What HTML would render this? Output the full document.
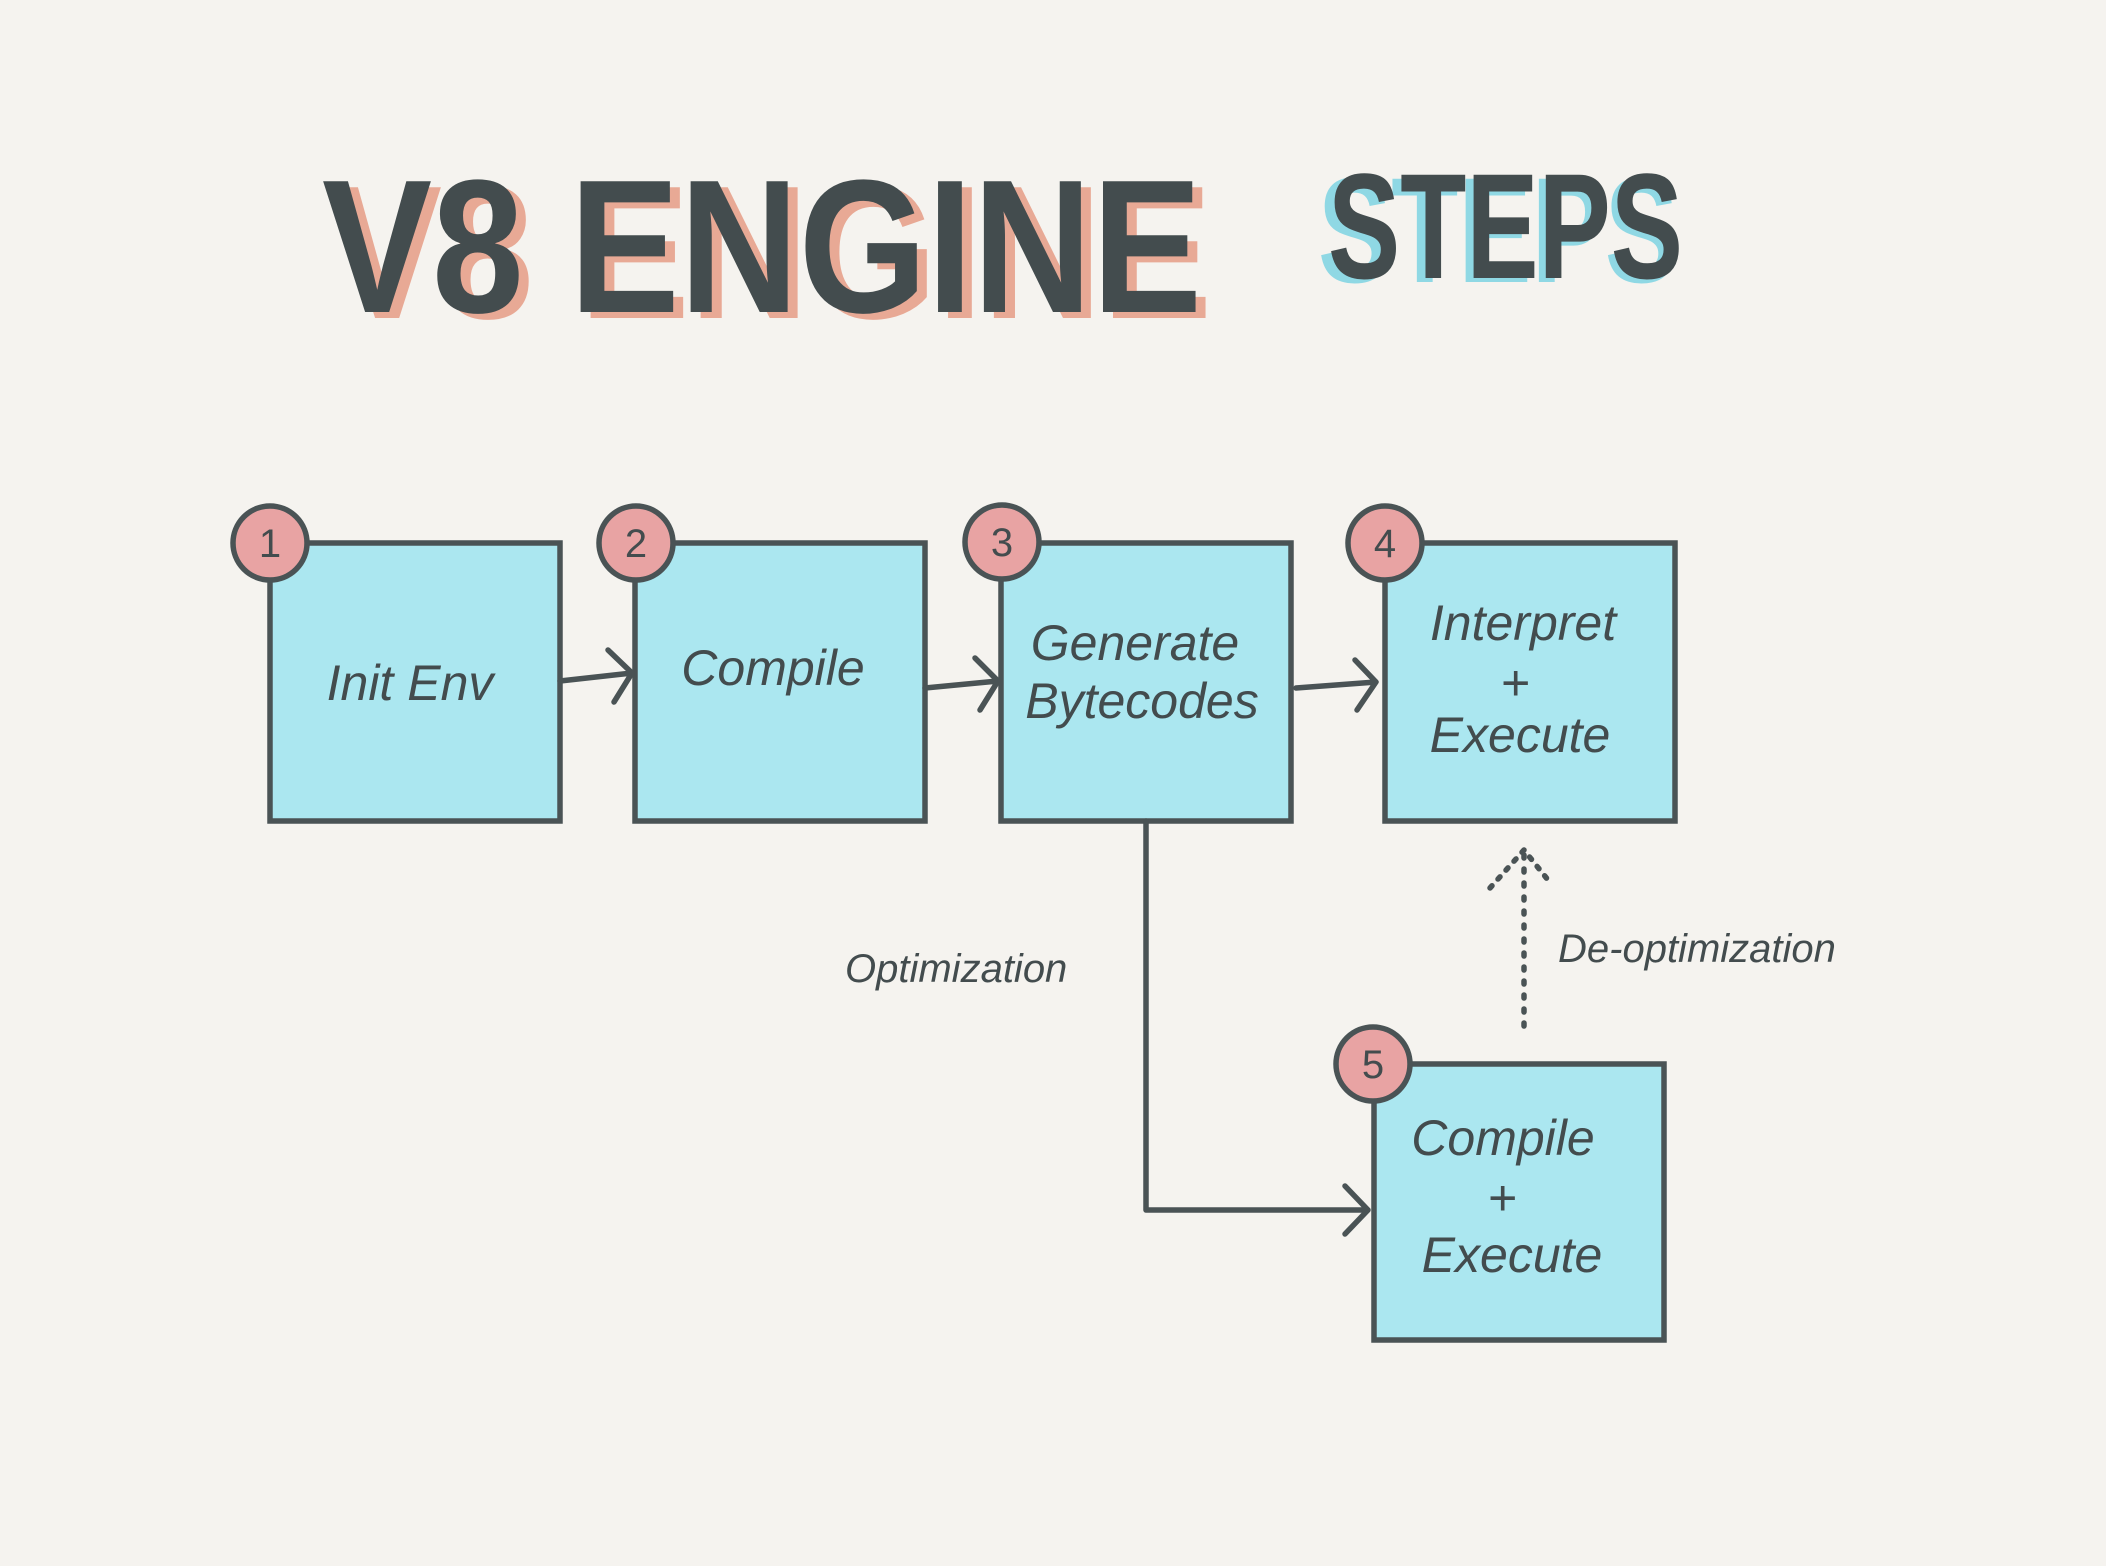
<!DOCTYPE html>
<html><head><meta charset="utf-8"><style>
html,body{margin:0;padding:0;background:#f5f3ef;}
svg{display:block}
text{font-family:"Liberation Sans",sans-serif;fill:#434c4e}
</style></head><body>
<svg width="2106" height="1566" viewBox="0 0 2106 1566" xmlns="http://www.w3.org/2000/svg">
<rect width="2106" height="1566" fill="#f5f3ef"/>
<!-- title -->
<text x="332" y="318" font-size="190" font-weight="bold" textLength="880" lengthAdjust="spacingAndGlyphs" style="fill:#e8a995">V8 ENGINE</text>
<text x="322" y="312" font-size="190" font-weight="bold" textLength="880" lengthAdjust="spacingAndGlyphs">V8 ENGINE</text>
<text x="1318" y="282" font-size="150" font-weight="bold" textLength="360" lengthAdjust="spacingAndGlyphs" style="fill:#8fd8e4">STEPS</text>
<text x="1328" y="278" font-size="150" font-weight="bold" textLength="355" lengthAdjust="spacingAndGlyphs">STEPS</text>
<g stroke="#4a5355" stroke-width="5.5" fill="#abe7f0">
<rect x="270" y="543" width="290" height="278"/>
<rect x="635" y="543" width="290" height="278"/>
<rect x="1001" y="543" width="290" height="278"/>
<rect x="1385" y="543" width="290" height="278"/>
<rect x="1374" y="1064" width="290" height="276"/>
</g>
<g stroke="#4a5355" stroke-width="5.5" fill="#e8a3a3">
<circle cx="270" cy="543" r="37"/>
<circle cx="636" cy="543" r="37"/>
<circle cx="1002" cy="542" r="37"/>
<circle cx="1385" cy="543" r="37"/>
<circle cx="1373" cy="1064" r="37"/>
</g>
<g font-size="40" text-anchor="middle">
<text x="270" y="557">1</text><text x="636" y="557">2</text><text x="1002" y="556">3</text><text x="1385" y="557">4</text><text x="1373" y="1078">5</text>
</g>
<g font-size="50" font-style="italic" text-anchor="middle">
<text x="410" y="700">Init Env</text>
<text x="773" y="685">Compile</text>
<text x="1135" y="660">Generate</text>
<text x="1142" y="718">Bytecodes</text>
<text x="1523" y="640">Interpret</text>
<text x="1515" y="700">+</text>
<text x="1520" y="752">Execute</text>
<text x="1503" y="1155">Compile</text>
<text x="1502" y="1215">+</text>
<text x="1512" y="1272">Execute</text>
</g>
<g font-size="40" font-style="italic">
<text x="845" y="982">Optimization</text>
<text x="1558" y="962">De-optimization</text>
</g>
<g stroke="#4a5355" stroke-width="5.5" fill="none" stroke-linecap="round" stroke-linejoin="round">
<path d="M560 681 L632 673 M608 650 L632 673 L614 702"/>
<path d="M925 688 L998 681 M975 658 L998 681 L980 710"/>
<path d="M1296 688 L1376 682 M1355 660 L1376 682 L1357 710"/>
<path d="M1146 821 L1146 1210 L1368 1210 M1345 1186 L1368 1210 L1345 1234"/>
<path d="M1524 1026 L1524 852" stroke-dasharray="3 11"/>
<path d="M1490 888 L1524 850 L1548 880" stroke-dasharray="3 9"/>
</g>
</svg>
</body></html>
